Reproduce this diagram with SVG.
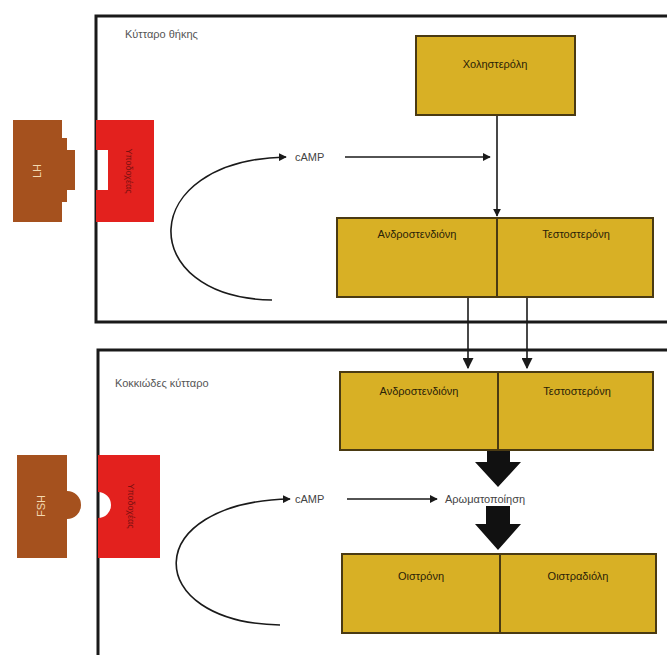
<svg xmlns="http://www.w3.org/2000/svg" width="667" height="655" viewBox="0 0 667 655">
<defs>
<marker id="ah" viewBox="0 0 10 10" refX="9" refY="5" markerWidth="8" markerHeight="8" markerUnits="userSpaceOnUse" orient="auto"><path d="M0,0 L10,5 L0,10 z" fill="#1a1a1a"/></marker>
<marker id="ah2" viewBox="0 0 10 10" refX="9" refY="5" markerWidth="11" markerHeight="11" markerUnits="userSpaceOnUse" orient="auto"><path d="M0,0 L10,5 L0,10 z" fill="#1a1a1a"/></marker>
</defs>
<style>
.cell{fill:none;stroke:#1a1a1a;stroke-width:3}
.box{fill:#D8B025;stroke:#4a3a12;stroke-width:2}
.div{stroke:#4a3a12;stroke-width:2}
.lbl{font-family:"Liberation Sans",Arial,sans-serif;font-size:11px;fill:#2a2208;text-anchor:middle}
.cl{font-family:"Liberation Sans",Arial,sans-serif;font-size:11px;fill:#555}
.t{font-family:"Liberation Sans",Arial,sans-serif;font-size:11px;fill:#444}
.ln{fill:none;stroke:#1a1a1a;stroke-width:1.6}
.br{fill:#A5511E}
.rd{fill:#E3211E}
</style>
<rect width="667" height="655" fill="#ffffff"/>
<g id="theca-cell">
<path class="cell" d="M669,16 L96,16 L96,322 L669,322"/>
<text class="cl" x="125" y="38">Κύτταρο θήκης</text>
</g>
<g id="granulosa-cell">
<path class="cell" d="M669,350 L98,350 L98,657"/>
<text class="cl" x="115" y="387">Κοκκιώδες κύτταρο</text>
</g>
<g id="lh">
<path class="br" d="M13,120 L62,120 L62,138 L67,138 L67,150 L75,150 L75,190 L67,190 L67,202 L62,202 L62,222 L13,222 z"/>
<text x="38" y="171" transform="rotate(-90 38 171)" font-family="Liberation Sans,Arial,sans-serif" font-size="11" fill="#f3d9b0" text-anchor="middle" dominant-baseline="middle">LH</text>
</g>
<g id="lh-receptor">
<path class="rd" d="M96,120 L154,120 L154,222 L96,222 L96,190 L108,190 L108,150 L96,150 z"/>
<text x="128" y="171" transform="rotate(90 128 171)" font-family="Liberation Sans,Arial,sans-serif" font-size="9" fill="#7a1010" text-anchor="middle" dominant-baseline="middle">Υποδοχέας</text>
</g>
<g id="fsh">
<path class="br" d="M17,455 L67,455 L67,491 A14,14 0 0 1 67,519 L67,558 L17,558 z"/>
<text x="42" y="506" transform="rotate(-90 42 506)" font-family="Liberation Sans,Arial,sans-serif" font-size="11" fill="#f3d9b0" text-anchor="middle" dominant-baseline="middle">FSH</text>
</g>
<g id="fsh-receptor">
<path class="rd" d="M98,455 L160,455 L160,558 L98,558 L98,518 A13,13 0 0 0 98,492 z"/>
<text x="130" y="506" transform="rotate(90 130 506)" font-family="Liberation Sans,Arial,sans-serif" font-size="9" fill="#7a1010" text-anchor="middle" dominant-baseline="middle">Υποδοχέας</text>
</g>
<g id="cholesterol">
<rect class="box" x="416" y="36" width="159" height="79"/>
<text class="lbl" x="495" y="68">Χοληστερόλη</text>
</g>
<g id="theca-androgens">
<rect class="box" x="337" y="218" width="316" height="79"/>
<line class="div" x1="497" y1="218" x2="497" y2="297"/>
<text class="lbl" x="417" y="238">Ανδροστενδιόνη</text>
<text class="lbl" x="576" y="238">Τεστοστερόνη</text>
</g>
<g id="granulosa-androgens">
<rect class="box" x="340" y="372" width="313" height="78"/>
<line class="div" x1="498" y1="372" x2="498" y2="450"/>
<text class="lbl" x="419" y="395">Ανδροστενδιόνη</text>
<text class="lbl" x="577" y="395">Τεστοστερόνη</text>
</g>
<g id="estrogens">
<rect class="box" x="342" y="554" width="314" height="79"/>
<line class="div" x1="500" y1="554" x2="500" y2="633"/>
<text class="lbl" x="421" y="580">Οιστρόνη</text>
<text class="lbl" x="578" y="580">Οιστραδιόλη</text>
</g>
<g id="camp-labels">
<text class="t" x="295" y="161">cAMP</text>
<text class="t" x="295" y="503">cAMP</text>
<text class="t" x="445" y="503">Αρωματοποίηση</text>
</g>
<g id="connectors">
<path class="ln" d="M272,300 C135,298 135,160 286,157" marker-end="url(#ah)"/>
<line class="ln" x1="345" y1="157" x2="490" y2="157" marker-end="url(#ah)"/>
<line class="ln" x1="497" y1="116" x2="497" y2="216" marker-end="url(#ah)"/>
<line class="ln" x1="468" y1="298" x2="468" y2="368" marker-end="url(#ah2)"/>
<line class="ln" x1="527" y1="298" x2="527" y2="368" marker-end="url(#ah2)"/>
<path class="ln" d="M280,625 C140,622 140,502 290,499" marker-end="url(#ah)"/>
<line class="ln" x1="347" y1="499" x2="437" y2="499" marker-end="url(#ah)"/>
<path d="M487,451 L510,451 L510,462 L521,462 L498,487 L475,462 L487,462 z" fill="#111"/>
<path d="M486,506 L510,506 L510,524 L521,524 L498,550 L475,524 L486,524 z" fill="#111"/>
</g>
</svg>
